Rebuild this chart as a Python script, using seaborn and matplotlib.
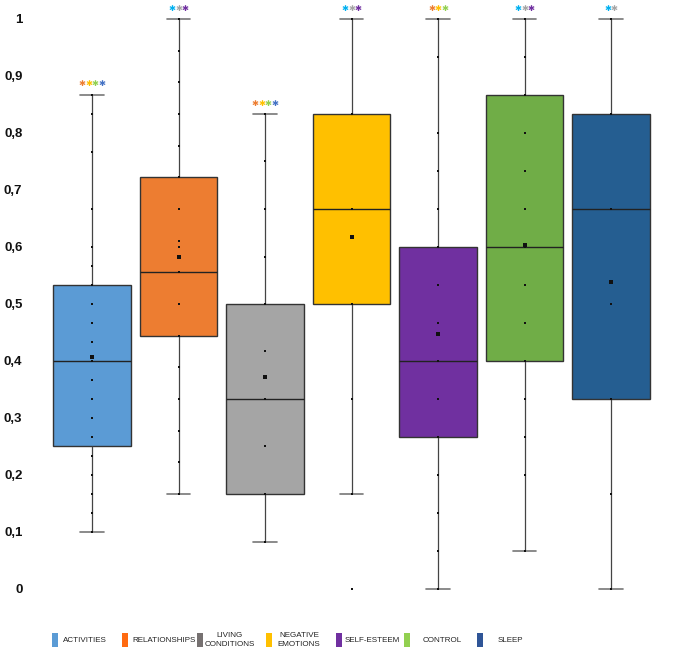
import numpy as np
import pandas as pd
import matplotlib
matplotlib.use("Agg")
import matplotlib.pyplot as plt
from matplotlib.patches import Rectangle
import seaborn as sns

# ── data ───────────────────────────────────────────────────
categories = ["ACTIVITIES", "RELATIONSHIPS", "LIVING CONDITIONS",
              "NEGATIVE EMOTIONS", "SELF-ESTEEM", "CONTROL", "SLEEP"]
legend_labels = ["ACTIVITIES", "RELATIONSHIPS", "LIVING\nCONDITIONS",
                 "NEGATIVE\nEMOTIONS", "SELF-ESTEEM", "CONTROL", "SLEEP"]

# whisker low, Q1, median, Q3, whisker high
box_activities    = [0.100, 0.250, 0.400, 0.533, 0.867]
box_relationships = [0.167, 0.444, 0.556, 0.722, 1.000]
box_living        = [0.083, 0.167, 0.333, 0.500, 0.833]
box_negative      = [0.167, 0.500, 0.667, 0.833, 1.000]
box_selfesteem    = [0.000, 0.267, 0.400, 0.600, 1.000]
box_control       = [0.067, 0.400, 0.600, 0.867, 1.000]
box_sleep         = [0.000, 0.333, 0.667, 0.833, 1.000]

means = [0.407, 0.583, 0.372, 0.617, 0.447, 0.603, 0.539]

pts_activities    = [0.1, 0.133, 0.167, 0.2, 0.233, 0.267, 0.3, 0.333, 0.367, 0.4,
                     0.433, 0.467, 0.5, 0.533, 0.567, 0.6, 0.667, 0.767, 0.833, 0.867]
pts_relationships = [0.167, 0.222, 0.278, 0.333, 0.389, 0.444, 0.5, 0.556, 0.6,
                     0.611, 0.667, 0.722, 0.778, 0.833, 0.889, 0.944, 1.0]
pts_living        = [0.083, 0.167, 0.25, 0.333, 0.417, 0.5, 0.583, 0.667, 0.75, 0.833]
pts_negative      = [0.0, 0.167, 0.333, 0.5, 0.667, 0.833, 1.0]
pts_selfesteem    = [0.0, 0.067, 0.133, 0.2, 0.267, 0.333, 0.4, 0.467, 0.533, 0.6,
                     0.667, 0.733, 0.8, 0.933, 1.0]
pts_control       = [0.067, 0.2, 0.267, 0.333, 0.4, 0.467, 0.533, 0.6, 0.667,
                     0.733, 0.8, 0.867, 0.933, 1.0]
pts_sleep         = [0.0, 0.167, 0.333, 0.5, 0.667, 0.833, 1.0]

box_colors    = ["#5B9BD5", "#ED7D31", "#A5A5A5", "#FFC000", "#7030A0", "#70AD47", "#255E91"]
legend_colors = ["#5B9BD5", "#FF6A10", "#767171", "#FFC000", "#7030A0", "#92D050", "#2F5597"]

# significance stars above each whisker
C_OR, C_YE, C_GR, C_BL = "#ED7D31", "#FFC000", "#92D050", "#4472C4"
C_CY, C_GY, C_PU = "#00B0F0", "#A5A5A5", "#7030A0"
stars = [[C_OR, C_YE, C_GR, C_BL], [C_CY, C_GY, C_PU], [C_OR, C_YE, C_GR, C_BL],
         [C_CY, C_GY, C_PU], [C_OR, C_YE, C_GR], [C_CY, C_GY, C_PU], [C_CY, C_GY]]

tick_values = [0, 0.1, 0.2, 0.3, 0.4, 0.5, 0.6, 0.7, 0.8, 0.9, 1.0]
tick_labels = ["0", "0,1", "0,2", "0,3", "0,4", "0,5", "0,6", "0,7", "0,8", "0,9", "1"]

# ── long tables ────────────────────────────────────────────
boxes = [box_activities, box_relationships, box_living, box_negative,
         box_selfesteem, box_control, box_sleep]
points = [pts_activities, pts_relationships, pts_living, pts_negative,
          pts_selfesteem, pts_control, pts_sleep]

box_df = pd.DataFrame([(c, v) for c, b in zip(categories, boxes) for v in b],
                      columns=["cat", "value"])
pts_df = pd.DataFrame([(c, v) for c, p in zip(categories, points) for v in p],
                      columns=["cat", "value"])
mean_df = pd.DataFrame({"cat": categories, "value": means})

# ── plot ───────────────────────────────────────────────────
sns.set_style("white")
plt.rcParams["font.family"] = ["Liberation Sans", "DejaVu Sans"]

fig = plt.figure(figsize=(6.85, 6.64), dpi=100)
ax = fig.add_axes([0.0712, 0.0872, 0.884, 0.910])

sns.boxplot(data=box_df, x="cat", y="value", hue="cat", order=categories,
            hue_order=categories, palette=box_colors, legend=False,
            whis=(0, 100), width=0.9, linewidth=1.0, linecolor="#333333",
            saturation=1, showfliers=False, capwidths=0.27,
            whiskerprops=dict(color="#444444", linewidth=0.9),
            capprops=dict(color="#777777", linewidth=1.2),
            medianprops=dict(color="#222222", linewidth=1.0), ax=ax)

sns.stripplot(data=pts_df, x="cat", y="value", order=categories, jitter=False,
              color="#111111", marker="s", size=1.6, linewidth=0, ax=ax)
sns.stripplot(data=mean_df, x="cat", y="value", order=categories, jitter=False,
              color="#111111", marker="s", size=2.3, linewidth=0, ax=ax)

for i, (b, cols) in enumerate(zip(boxes, stars)):
    n = len(cols)
    for k, c in enumerate(cols):
        ax.text(i + (k - (n - 1) / 2) * 0.075, b[-1] + 0.019, "✱", color=c,
                fontsize=6, ha="center", va="center", family="DejaVu Sans")

ax.set_xlim(-0.5, 6.5)
ax.set_ylim(-0.03, 1.03)
ax.set_yticks(tick_values)
ax.set_yticklabels(tick_labels, fontsize=9.5, fontweight="bold", color="#111111")
ax.set_xticks([])
ax.set_xlabel("")
ax.set_ylabel("")
ax.tick_params(axis="y", length=0, pad=19)
for s in ax.spines.values():
    s.set_visible(False)

# legend strip along the bottom
patch_x = [52, 122, 197, 266, 336, 404, 477]
label_x = [63, 132, 230, 299, 345, 423, 510]
label_ha = ["left", "left", "center", "center", "left", "left", "center"]
W, H = 685.0, 664.0
for px, lx, ha, lab, col in zip(patch_x, label_x, label_ha, legend_labels, legend_colors):
    fig.patches.append(Rectangle((px / W, 1 - 647 / H), 6 / W, 14 / H,
                                 transform=fig.transFigure, facecolor=col,
                                 edgecolor="none"))
    fig.text(lx / W, 1 - 640 / H, lab, ha=ha, va="center", fontsize=5.8,
             family="Liberation Sans", color="#222222", linespacing=1.3)

fig.savefig("out.png", dpi=100)
